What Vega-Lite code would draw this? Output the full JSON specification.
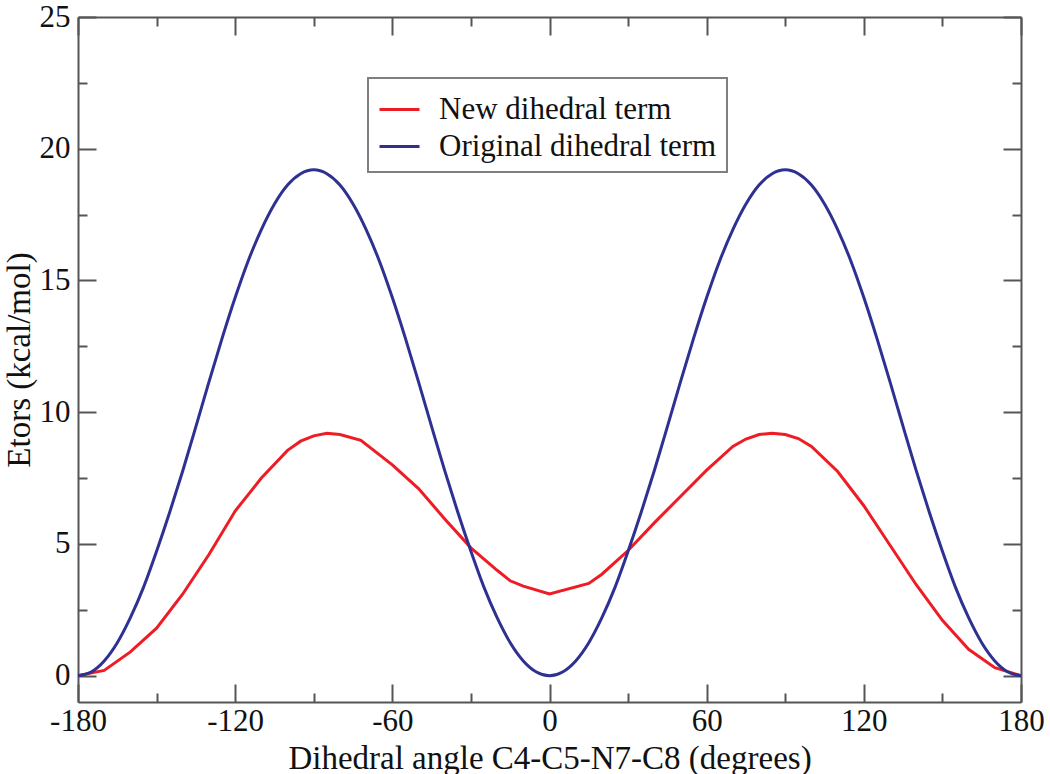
{
  "$schema": "https://vega.github.io/schema/vega-lite/v6.json",
  "width": 943,
  "height": 685,
  "autosize": {"type": "none"},
  "padding": {"left": 78, "top": 17, "right": 29, "bottom": 72},
  "background": "white",
  "config": {
    "view": {"stroke": null},
    "font": "Liberation Serif",
    "axis": {
      "grid": false,
      "domainColor": "#555555",
      "domainWidth": 2,
      "tickColor": "#555555",
      "tickWidth": 2,
      "labelFont": "Liberation Serif",
      "labelFontSize": 31,
      "labelColor": "#111111",
      "titleFont": "Liberation Serif",
      "titleFontSize": 33,
      "titleFontWeight": 500,
      "titleColor": "#111111",
      "labelOverlap": false,
      "labelFlush": false
    },
    "legend": {
      "orient": "none",
      "legendX": 290,
      "legendY": 61,
      "strokeColor": "#7f7f7f",
      "strokeWidth": 2,
      "fillColor": "white",
      "padding": 10,
      "labelFont": "Liberation Serif",
      "labelFontSize": 31,
      "labelLimit": 0,
      "labelColor": "#111111",
      "symbolType": "stroke",
      "symbolSize": 1600,
      "symbolStrokeWidth": 3,
      "labelOffset": 18,
      "rowPadding": -6,
      "title": null
    }
  },
  "data": {
    "values": [
      {"angle": -180, "energy": 0, "series": "New dihedral term"},
      {"angle": -170, "energy": 0.2, "series": "New dihedral term"},
      {"angle": -160, "energy": 0.9, "series": "New dihedral term"},
      {"angle": -150, "energy": 1.8, "series": "New dihedral term"},
      {"angle": -140, "energy": 3.1, "series": "New dihedral term"},
      {"angle": -130, "energy": 4.6, "series": "New dihedral term"},
      {"angle": -120, "energy": 6.25, "series": "New dihedral term"},
      {"angle": -110, "energy": 7.5, "series": "New dihedral term"},
      {"angle": -100, "energy": 8.55, "series": "New dihedral term"},
      {"angle": -95, "energy": 8.9, "series": "New dihedral term"},
      {"angle": -90, "energy": 9.1, "series": "New dihedral term"},
      {"angle": -85, "energy": 9.2, "series": "New dihedral term"},
      {"angle": -80, "energy": 9.15, "series": "New dihedral term"},
      {"angle": -72, "energy": 8.93, "series": "New dihedral term"},
      {"angle": -60, "energy": 8.0, "series": "New dihedral term"},
      {"angle": -50, "energy": 7.1, "series": "New dihedral term"},
      {"angle": -40, "energy": 5.95, "series": "New dihedral term"},
      {"angle": -30, "energy": 4.85, "series": "New dihedral term"},
      {"angle": -20, "energy": 4.0, "series": "New dihedral term"},
      {"angle": -15, "energy": 3.6, "series": "New dihedral term"},
      {"angle": -10, "energy": 3.4, "series": "New dihedral term"},
      {"angle": 0, "energy": 3.1, "series": "New dihedral term"},
      {"angle": 15, "energy": 3.5, "series": "New dihedral term"},
      {"angle": 20, "energy": 3.85, "series": "New dihedral term"},
      {"angle": 30, "energy": 4.75, "series": "New dihedral term"},
      {"angle": 40, "energy": 5.8, "series": "New dihedral term"},
      {"angle": 50, "energy": 6.8, "series": "New dihedral term"},
      {"angle": 60, "energy": 7.8, "series": "New dihedral term"},
      {"angle": 70, "energy": 8.7, "series": "New dihedral term"},
      {"angle": 75, "energy": 8.98, "series": "New dihedral term"},
      {"angle": 80, "energy": 9.15, "series": "New dihedral term"},
      {"angle": 85, "energy": 9.2, "series": "New dihedral term"},
      {"angle": 90, "energy": 9.15, "series": "New dihedral term"},
      {"angle": 95, "energy": 9.0, "series": "New dihedral term"},
      {"angle": 100, "energy": 8.7, "series": "New dihedral term"},
      {"angle": 110, "energy": 7.75, "series": "New dihedral term"},
      {"angle": 120, "energy": 6.45, "series": "New dihedral term"},
      {"angle": 130, "energy": 4.95, "series": "New dihedral term"},
      {"angle": 140, "energy": 3.45, "series": "New dihedral term"},
      {"angle": 150, "energy": 2.1, "series": "New dihedral term"},
      {"angle": 160, "energy": 1.0, "series": "New dihedral term"},
      {"angle": 170, "energy": 0.3, "series": "New dihedral term"},
      {"angle": 180, "energy": 0, "series": "New dihedral term"},

      {"angle": -180, "energy": 0, "series": "Original dihedral term"},
      {"angle": -175, "energy": 0.14, "series": "Original dihedral term"},
      {"angle": -170, "energy": 0.56, "series": "Original dihedral term"},
      {"angle": -165, "energy": 1.25, "series": "Original dihedral term"},
      {"angle": -160, "energy": 2.2, "series": "Original dihedral term"},
      {"angle": -155, "energy": 3.35, "series": "Original dihedral term"},
      {"angle": -150, "energy": 4.72, "series": "Original dihedral term"},
      {"angle": -145, "energy": 6.2, "series": "Original dihedral term"},
      {"angle": -140, "energy": 7.78, "series": "Original dihedral term"},
      {"angle": -135, "energy": 9.45, "series": "Original dihedral term"},
      {"angle": -130, "energy": 11.15, "series": "Original dihedral term"},
      {"angle": -125, "energy": 12.8, "series": "Original dihedral term"},
      {"angle": -120, "energy": 14.35, "series": "Original dihedral term"},
      {"angle": -115, "energy": 15.75, "series": "Original dihedral term"},
      {"angle": -110, "energy": 16.93, "series": "Original dihedral term"},
      {"angle": -105, "energy": 17.9, "series": "Original dihedral term"},
      {"angle": -100, "energy": 18.62, "series": "Original dihedral term"},
      {"angle": -95, "energy": 19.05, "series": "Original dihedral term"},
      {"angle": -90, "energy": 19.2, "series": "Original dihedral term"},
      {"angle": -85, "energy": 19.05, "series": "Original dihedral term"},
      {"angle": -80, "energy": 18.62, "series": "Original dihedral term"},
      {"angle": -75, "energy": 17.9, "series": "Original dihedral term"},
      {"angle": -70, "energy": 16.93, "series": "Original dihedral term"},
      {"angle": -65, "energy": 15.75, "series": "Original dihedral term"},
      {"angle": -60, "energy": 14.35, "series": "Original dihedral term"},
      {"angle": -55, "energy": 12.8, "series": "Original dihedral term"},
      {"angle": -50, "energy": 11.15, "series": "Original dihedral term"},
      {"angle": -45, "energy": 9.45, "series": "Original dihedral term"},
      {"angle": -40, "energy": 7.78, "series": "Original dihedral term"},
      {"angle": -35, "energy": 6.2, "series": "Original dihedral term"},
      {"angle": -30, "energy": 4.72, "series": "Original dihedral term"},
      {"angle": -25, "energy": 3.35, "series": "Original dihedral term"},
      {"angle": -20, "energy": 2.2, "series": "Original dihedral term"},
      {"angle": -15, "energy": 1.25, "series": "Original dihedral term"},
      {"angle": -10, "energy": 0.56, "series": "Original dihedral term"},
      {"angle": -5, "energy": 0.14, "series": "Original dihedral term"},
      {"angle": 0, "energy": 0, "series": "Original dihedral term"},
      {"angle": 5, "energy": 0.14, "series": "Original dihedral term"},
      {"angle": 10, "energy": 0.56, "series": "Original dihedral term"},
      {"angle": 15, "energy": 1.25, "series": "Original dihedral term"},
      {"angle": 20, "energy": 2.2, "series": "Original dihedral term"},
      {"angle": 25, "energy": 3.35, "series": "Original dihedral term"},
      {"angle": 30, "energy": 4.72, "series": "Original dihedral term"},
      {"angle": 35, "energy": 6.2, "series": "Original dihedral term"},
      {"angle": 40, "energy": 7.78, "series": "Original dihedral term"},
      {"angle": 45, "energy": 9.45, "series": "Original dihedral term"},
      {"angle": 50, "energy": 11.15, "series": "Original dihedral term"},
      {"angle": 55, "energy": 12.8, "series": "Original dihedral term"},
      {"angle": 60, "energy": 14.35, "series": "Original dihedral term"},
      {"angle": 65, "energy": 15.75, "series": "Original dihedral term"},
      {"angle": 70, "energy": 16.93, "series": "Original dihedral term"},
      {"angle": 75, "energy": 17.9, "series": "Original dihedral term"},
      {"angle": 80, "energy": 18.62, "series": "Original dihedral term"},
      {"angle": 85, "energy": 19.05, "series": "Original dihedral term"},
      {"angle": 90, "energy": 19.2, "series": "Original dihedral term"},
      {"angle": 95, "energy": 19.05, "series": "Original dihedral term"},
      {"angle": 100, "energy": 18.62, "series": "Original dihedral term"},
      {"angle": 105, "energy": 17.9, "series": "Original dihedral term"},
      {"angle": 110, "energy": 16.93, "series": "Original dihedral term"},
      {"angle": 115, "energy": 15.75, "series": "Original dihedral term"},
      {"angle": 120, "energy": 14.35, "series": "Original dihedral term"},
      {"angle": 125, "energy": 12.8, "series": "Original dihedral term"},
      {"angle": 130, "energy": 11.15, "series": "Original dihedral term"},
      {"angle": 135, "energy": 9.45, "series": "Original dihedral term"},
      {"angle": 140, "energy": 7.78, "series": "Original dihedral term"},
      {"angle": 145, "energy": 6.2, "series": "Original dihedral term"},
      {"angle": 150, "energy": 4.72, "series": "Original dihedral term"},
      {"angle": 155, "energy": 3.35, "series": "Original dihedral term"},
      {"angle": 160, "energy": 2.2, "series": "Original dihedral term"},
      {"angle": 165, "energy": 1.25, "series": "Original dihedral term"},
      {"angle": 170, "energy": 0.56, "series": "Original dihedral term"},
      {"angle": 175, "energy": 0.14, "series": "Original dihedral term"},
      {"angle": 180, "energy": 0, "series": "Original dihedral term"}
    ]
  },
  "resolve": {"axis": {"x": "independent", "y": "independent"}},
  "layer": [
    {
      "transform": [{"filter": "datum.series === 'New dihedral term'"}],
      "mark": {"type": "line", "strokeWidth": 3},
      "encoding": {
        "x": {
          "field": "angle",
          "type": "quantitative",
          "scale": {"domain": [-180, 180], "nice": false, "zero": false},
          "axis": {
            "orient": "bottom",
            "title": "Dihedral angle C4-C5-N7-C8 (degrees)",
            "values": [-180, -150, -120, -90, -60, -30, 0, 30, 60, 90, 120, 150, 180],
            "labelExpr": "datum.value % 60 === 0 ? '' + datum.value : ''",
            "tickSize": {"condition": {"test": "datum.value % 60 !== 0", "value": -9}, "value": -18},
            "labelPadding": 22,
            "titlePadding": -3,
            "encode": {"title": {"update": {"font": {"value": "Liberation Serif"}}}}
          }
        },
        "y": {
          "field": "energy",
          "type": "quantitative",
          "scale": {"domain": [-1, 25], "nice": false, "zero": false},
          "axis": {
            "orient": "left",
            "title": "Etors (kcal/mol)",
            "values": [0, 2.5, 5, 7.5, 10, 12.5, 15, 17.5, 20, 22.5, 25],
            "labelExpr": "datum.value % 5 === 0 ? '' + datum.value : ''",
            "tickSize": {"condition": {"test": "datum.value % 5 !== 0", "value": -9}, "value": -18},
            "labelPadding": 26,
            "titlePadding": 3,
            "encode": {"title": {"update": {"font": {"value": "Liberation Serif"}}}}
          }
        },
        "color": {
          "field": "series",
          "type": "nominal",
          "scale": {"domain": ["New dihedral term", "Original dihedral term"], "range": ["#ee1c25", "#2e3192"]},
          "legend": {}
        }
      }
    },
    {
      "transform": [{"filter": "datum.series === 'Original dihedral term'"}],
      "mark": {"type": "line", "strokeWidth": 3, "interpolate": "monotone"},
      "encoding": {
        "x": {"field": "angle", "type": "quantitative", "axis": null},
        "y": {"field": "energy", "type": "quantitative", "axis": null},
        "color": {"field": "series", "type": "nominal"}
      }
    },
    {
      "mark": {"type": "line", "opacity": 0},
      "encoding": {
        "detail": {"field": "series"},
        "x": {
          "field": "angle",
          "type": "quantitative",
          "axis": {
            "orient": "top",
            "title": null,
            "labels": false,
            "values": [-180, -150, -120, -90, -60, -30, 0, 30, 60, 90, 120, 150, 180],
            "tickSize": {"condition": {"test": "datum.value % 60 !== 0", "value": -9}, "value": -18}
          }
        },
        "y": {
          "field": "energy",
          "type": "quantitative",
          "axis": {
            "orient": "right",
            "title": null,
            "labels": false,
            "values": [0, 2.5, 5, 7.5, 10, 12.5, 15, 17.5, 20, 22.5, 25],
            "tickSize": {"condition": {"test": "datum.value % 5 !== 0", "value": -9}, "value": -18}
          }
        }
      }
    }
  ]
}
